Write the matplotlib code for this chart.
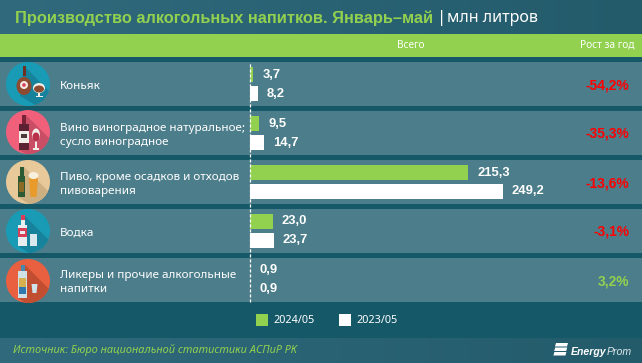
import matplotlib
matplotlib.use('Agg')
import matplotlib.pyplot as plt
from matplotlib.patches import Rectangle, Circle, Polygon, Ellipse
import numpy as np

W, H = 642, 363

categories = ['Коньяк',
              'Вино виноградное натуральное;\nсусло виноградное',
              'Пиво, кроме осадков и отходов\nпивоварения',
              'Водка',
              'Ликеры и прочие алкогольные\nнапитки']
values_2024 = [3.7, 9.5, 215.3, 23.0, 0.9]
values_2023 = [8.2, 14.7, 249.2, 23.7, 0.9]
labels_2024 = ['3,7', '9,5', '215,3', '23,0', '0,9']
labels_2023 = ['8,2', '14,7', '249,2', '23,7', '0,9']
growth = ['-54,2%', '-35,3%', '-13,6%', '-3,1%', '3,2%']
series_names = ['2024/05', '2023/05']

GREEN = '#92d14f'
DARK = '#155868'
ROW = '#4c7d8a'
RED = '#ff0000'
FONT = 'Noto Sans'
BOLD = 'Liberation Sans'

fig = plt.figure(figsize=(W / 100, H / 100), dpi=100)
bg = fig.add_axes([0, 0, 1, 1])

# header and footer gradient
grad = np.linspace(0, 1, 256).reshape(1, -1)
cmap = matplotlib.colors.LinearSegmentedColormap.from_list('h', ['#306a7c', '#235b6b'])
bg.imshow(grad, extent=[0, W, H, 0], cmap=cmap, aspect='auto', zorder=0)
bg.set_xlim(0, W)
bg.set_ylim(H, 0)
bg.axis('off')

bg.add_patch(Rectangle((0, 34), W, 23, color=GREEN, lw=0, zorder=1))
bg.add_patch(Rectangle((0, 57), W, 281, color=DARK, lw=0, zorder=1))
row_tops = [62, 111, 160, 209, 258]
for top in row_tops:
    bg.add_patch(Rectangle((0, top), W, 44, color=ROW, lw=0, zorder=2))

bg.text(15, 18.5, 'Производство алкогольных напитков. Январь–май', color=GREEN,
        fontsize=11.75, fontweight='bold', family='Liberation Sans', va='center', zorder=5)
bg.text(437, 18.5, '|', color='white', fontsize=12, family=FONT, va='center', zorder=5)
bg.text(447, 18.5, 'млн литров', color='white', fontsize=11.6, family=FONT, va='center', zorder=5)
bg.text(411, 45.5, 'Всего', color='white', fontsize=7.2, family=FONT, ha='center', va='center', zorder=5)
bg.text(635, 45.5, 'Рост за год', color='white', fontsize=7.3, family=FONT, ha='right', va='center', zorder=5)


def rect(x0, y0, x1, y1, color, z=4):
    bg.add_patch(Rectangle((x0, y0), x1 - x0, y1 - y0, color=color, lw=0, zorder=z))


def disc(cy, face, shadow, pts):
    circ = Circle((28, cy), 22, color=face, lw=0, zorder=3)
    bg.add_patch(circ)
    sh = Polygon(pts, color=shadow, lw=0, zorder=3.1)
    bg.add_patch(sh)
    sh.set_clip_path(circ)


# cognac
disc(84, '#1a9bb5', '#17829b', [(24, 66), (64, 106), (58, 118), (20, 96)])
rect(22.5, 66, 25.5, 76, '#6e3020')
bg.add_patch(Ellipse((24, 86), 15, 18, color='#8c4a30', lw=0, zorder=4))
bg.add_patch(Circle((24, 85), 4, color='#f4e8e0', lw=0, zorder=4.1))
bg.add_patch(Circle((24, 85), 1.8, color='#d8405a', lw=0, zorder=4.2))
bg.add_patch(Ellipse((39, 88), 12, 10, color='#f2efe9', lw=0, zorder=4))
bg.add_patch(Ellipse((39, 89), 10, 7, color='#8c4a30', lw=0, zorder=4.1))
rect(38.3, 92, 39.7, 96, '#f2efe9')
rect(35.5, 96, 42.5, 97, '#f2efe9')

# wine
disc(132, '#f0607a', '#c94d64', [(26, 115), (66, 155), (56, 170), (19, 150)])
rect(22, 115, 26, 125, '#7a2238')
rect(19, 124, 29, 150, '#5c2233')
rect(19, 131, 29, 143, '#f2ede6', 4.1)
rect(21, 134, 27, 138, '#4a3a3a', 4.2)
bg.add_patch(Ellipse((36, 135), 8, 13, color='#f2ede6', lw=0, zorder=4))
bg.add_patch(Ellipse((36, 137), 7, 9, color='#b8304a', lw=0, zorder=4.1))
rect(35.3, 141, 36.7, 148, '#f2ede6')
rect(33, 148, 39, 149.5, '#f2ede6')

# beer
disc(182, '#e8c99a', '#cdb082', [(24, 167), (64, 207), (56, 222), (18, 197)])
rect(20, 167, 23.5, 177, '#2c5a34')
rect(18, 176, 25, 197, '#2c5a34')
rect(19, 182, 24, 192, '#8a6a24', 4.1)
bg.add_patch(Polygon([(29, 178), (38, 178), (36.5, 197), (30.5, 197)], color='#e89a2a', lw=0, zorder=4))
bg.add_patch(Ellipse((33.5, 175.5), 10, 7, color='#f8f0dc', lw=0, zorder=4.1))

# vodka
disc(231, '#1a9bb5', '#17829b', [(24, 215), (64, 255), (56, 270), (18, 246)])
rect(21, 215, 24.5, 220, '#d8405a')
rect(21, 220, 24.5, 226, '#e8eef0')
rect(18, 225, 27, 246, '#e8eef0')
rect(18, 228, 27, 237, '#d8405a', 4.1)
rect(20, 231, 25, 234, '#e8eef0', 4.2)
rect(29.5, 234, 36.5, 246, '#d8e8ec')

# liqueur
disc(281, '#e8603f', '#c24e32', [(25, 265), (65, 305), (55, 322), (18, 298)])
rect(20.5, 265, 24.5, 272, '#4a88b0')
rect(18, 271, 27, 298, '#cfe0e6')
rect(19, 278, 26, 287, '#d8b050', 4.1)
rect(19, 287, 26, 294, '#2f78b0', 4.1)
bg.add_patch(Polygon([(31.5, 284), (37.5, 284), (36.5, 293), (32.5, 293)], color='#cfe4ea', lw=0, zorder=4))

for top, cat in zip(row_tops, categories):
    bg.text(60, top + 24.5, cat, color='white', fontsize=8.4, family=FONT,
            va='center', linespacing=1.45, zorder=5)
for top, g in zip(row_tops, growth):
    col = GREEN if not g.startswith('-') else RED
    bg.text(629, top + 23, g, color=col, fontsize=9.9, fontweight='bold', family=BOLD,
            ha='right', va='center', zorder=5)

# bars, own axis in data units
scale = 1.017
ax = fig.add_axes([249.5 / W, (H - 302) / H, (W - 249.5) / W, 240 / H])
ax.set_xlim(0, (W - 249.5) / scale)
ax.set_ylim(4.449, -0.449)
ax.axis('off')
y = np.arange(len(categories))
off = 9.5 / 49
h = 15 / 49
ax.barh(y - off, values_2024, h, color=GREEN, zorder=3)
ax.barh(y + off, values_2023, h, color='white', zorder=3)
ax.axvline(0, color='white', lw=0.9, ls=(0, (2.5, 1.5)), zorder=4, clip_on=False)
for i in y:
    ax.annotate(labels_2024[i], (values_2024[i], i - off), xytext=(9, 0), textcoords='offset pixels',
                color='white', fontsize=9.4, fontweight='bold', family=BOLD, va='center')
    ax.annotate(labels_2023[i], (values_2023[i], i + off), xytext=(9, 0), textcoords='offset pixels',
                color='white', fontsize=9.4, fontweight='bold', family=BOLD, va='center')

# legend
bg.add_patch(Rectangle((256, 314), 12, 12, color=GREEN, lw=0, zorder=3))
bg.text(273, 320.5, series_names[0], color='white', fontsize=7.8, family=FONT, va='center', zorder=5)
bg.add_patch(Rectangle((339, 314), 12, 12, color='white', lw=0, zorder=3))
bg.text(356, 320.5, series_names[1], color='white', fontsize=7.8, family=FONT, va='center', zorder=5)

# footer
bg.text(13, 350, 'Источник: Бюро национальной статистики АСПиР РК', color=GREEN,
        fontsize=7.9, style='italic', family=FONT, va='center', zorder=5)
bg.text(571, 352, 'Energy', color='white', fontsize=7.6, fontweight='bold', style='italic',
        family='Liberation Sans', va='center', zorder=5)
bg.text(607, 352, 'Prom', color='#dfe9ec', fontsize=7.6, style='italic',
        family='Liberation Sans', va='center', zorder=5)
for k in range(3):
    bg.add_patch(Polygon([(556 - k * 0.8, 343 + k * 4.5), (568 - k * 0.8, 343 + k * 4.5),
                          (567 - k * 0.8, 346.5 + k * 4.5), (555 - k * 0.8, 346.5 + k * 4.5)],
                         color='white', lw=0, zorder=5))

fig.savefig('out.png', dpi=100)
